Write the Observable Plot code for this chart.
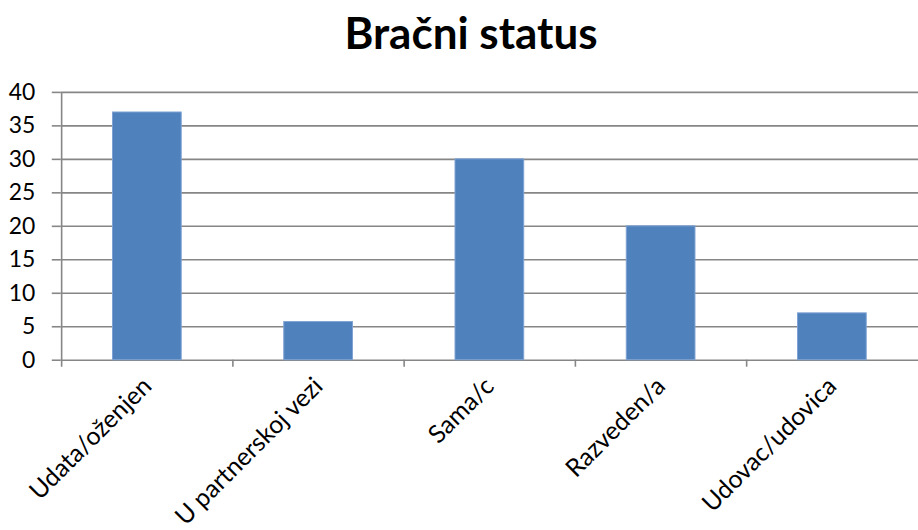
<!DOCTYPE html>
<html>
<head>
<meta charset="utf-8">
<script src="https://cdn.jsdelivr.net/npm/d3@7"></script>
<script src="https://cdn.jsdelivr.net/npm/@observablehq/plot@0.6"></script>
<style>
  html, body { margin: 0; padding: 0; background: #fff; }
  #wrap { width: 918px; height: 530px; overflow: hidden; font-family: Lato, "Open Sans", sans-serif; }
  #title { height: 70px; text-align: center; font-weight: bold; font-size: 44px; line-height: 64px; padding-left: 24px; box-sizing: border-box; color: #000; }
  #chart { width: 918px; overflow: hidden; }
</style>
</head>
<body>
<div id="wrap">
  <div id="title">Bračni status</div>
  <div id="chart"></div>
</div>
<script>
const categories = ["Udata/oženjen", "U partnerskoj vezi", "Sama/c", "Razveden/a", "Udovac/udovica"];
const values = [37, 5.7, 30, 20, 7];
const yTicks = [0, 5, 10, 15, 20, 25, 30, 35, 40];

const data = categories.map((c, i) => ({category: c, value: values[i]}));

const W = 922, H = 460, mL = 61, mR = 0, mT = 22, mB = 169;
const step = (W - mL - mR) / categories.length;
const grey = "#868686";

const chart = Plot.plot({
  width: W, height: H,
  marginLeft: mL, marginRight: mR, marginTop: mT, marginBottom: mB,
  style: {fontFamily: "Lato, 'Open Sans', sans-serif", color: "#000", background: "#fff"},
  x: {domain: categories, paddingInner: 0.6, paddingOuter: 0.3, label: null},
  y: {domain: [0, 40], label: null},
  marks: [
    Plot.gridY(yTicks, {stroke: grey, strokeOpacity: 1, strokeWidth: 1.6}),
    Plot.axisY(yTicks, {tickSize: 9, tickPadding: 17, fontSize: 23, stroke: grey, strokeWidth: 1.6, fill: "#000", label: null}),
    Plot.ruleX([categories[0]], {dx: -step / 2, stroke: grey, strokeWidth: 1.6, insetBottom: -7}),
    Plot.ruleX(categories.slice(1), {y1: 0, y2: 0, dx: -step / 2, stroke: grey, strokeWidth: 1.6, insetBottom: -7}),
    Plot.barY(data, {x: "category", y: "value", fill: "#4F81BD", stroke: "#7EA2D3", strokeWidth: 1}),
    Plot.axisX({tickSize: 0, tickPadding: 22, tickRotate: -45, fontSize: 25, fill: "#000", label: null})
  ]
});
document.getElementById("chart").appendChild(chart);
</script>
</body>
</html>
